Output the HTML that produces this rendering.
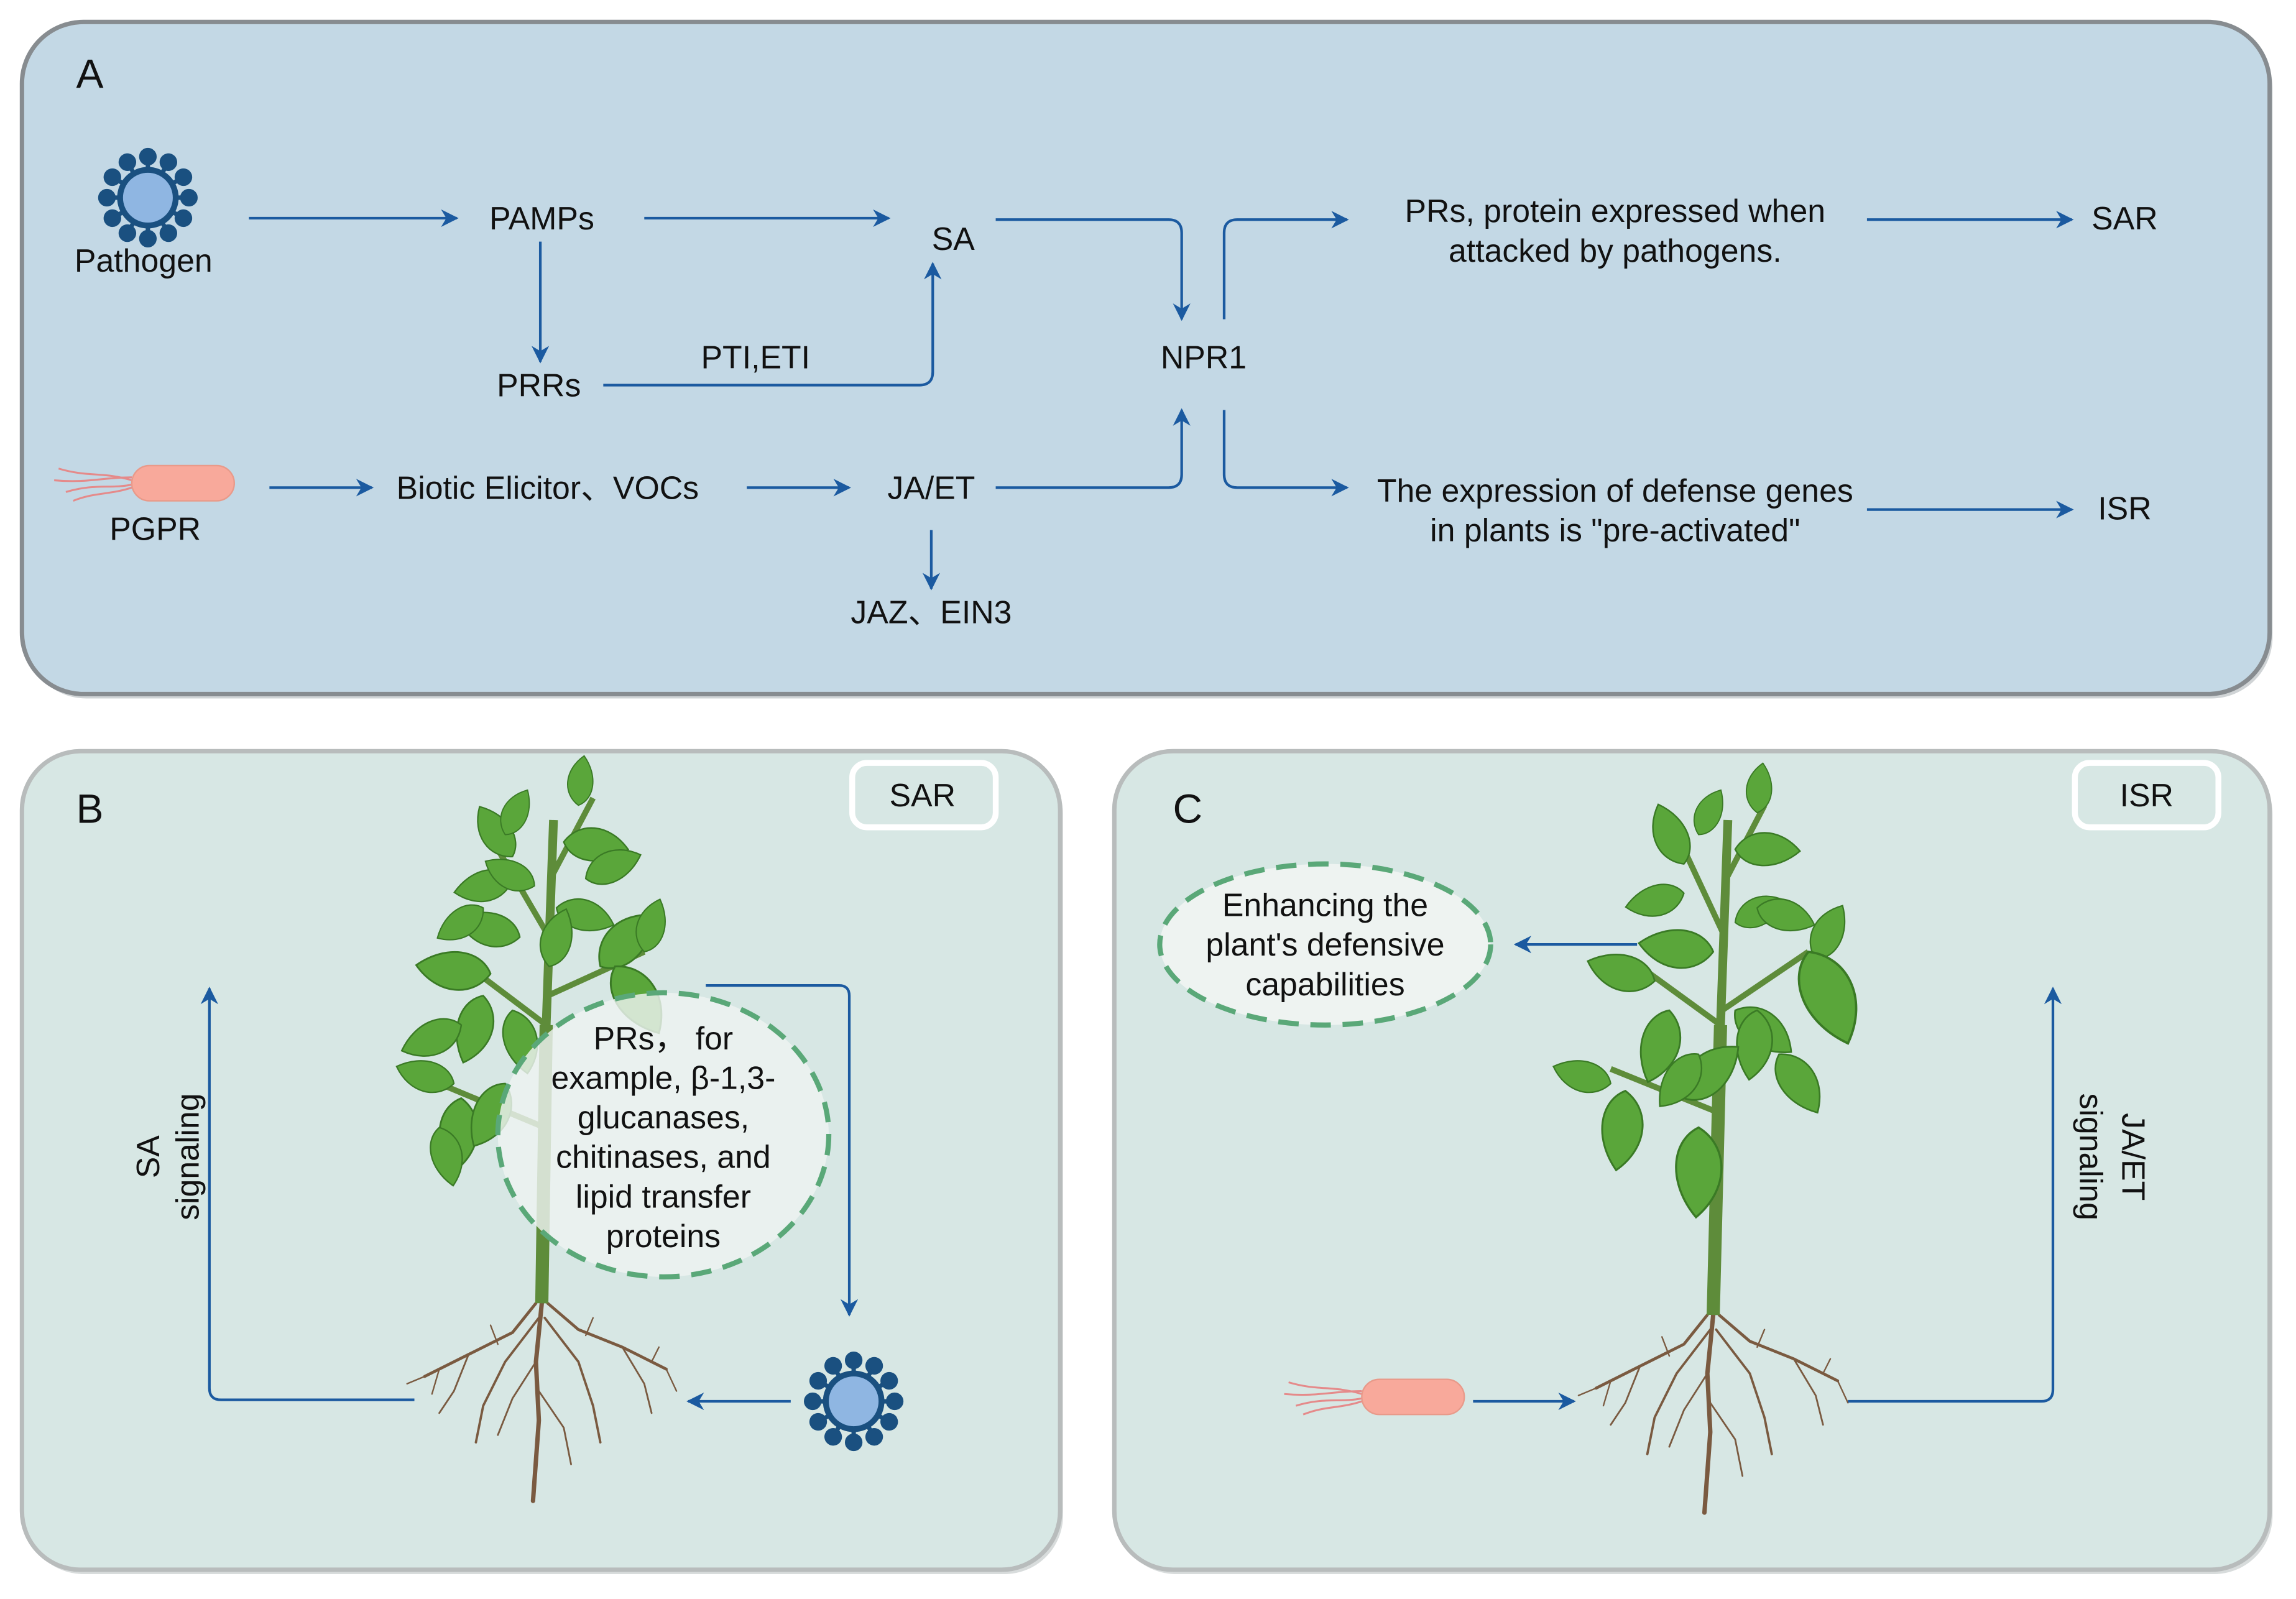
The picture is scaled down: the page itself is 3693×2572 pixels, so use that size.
<!DOCTYPE html>
<html><head><meta charset="utf-8"><style>
html,body{margin:0;padding:0;background:#fff;}
svg{display:block;}
text{font-family:"Liberation Sans",Arial,sans-serif;fill:#111;}
</style></head><body>
<svg width="3693" height="2572" viewBox="0 0 1568 1092" preserveAspectRatio="none" xmlns="http://www.w3.org/2000/svg">
<defs>
<marker id="ah" viewBox="0 0 10 10" refX="9" refY="5" markerWidth="12" markerHeight="12" markerUnits="userSpaceOnUse" orient="auto"><path d="M0,0 L10,5 L0,10 L3,5 z" fill="#1b5aa0"/></marker>
<g id="virus">
 <g stroke="#1a5080" stroke-width="3" fill="#1a5080">
  <line x1="0" y1="-28" x2="0" y2="0"/><circle cx="0" cy="-28" r="4.5"/>
  <g transform="rotate(30)"><line x1="0" y1="-28" x2="0" y2="0"/><circle cx="0" cy="-28" r="4.5"/></g>
  <g transform="rotate(60)"><line x1="0" y1="-28" x2="0" y2="0"/><circle cx="0" cy="-28" r="4.5"/></g>
  <g transform="rotate(90)"><line x1="0" y1="-28" x2="0" y2="0"/><circle cx="0" cy="-28" r="4.5"/></g>
  <g transform="rotate(120)"><line x1="0" y1="-28" x2="0" y2="0"/><circle cx="0" cy="-28" r="4.5"/></g>
  <g transform="rotate(150)"><line x1="0" y1="-28" x2="0" y2="0"/><circle cx="0" cy="-28" r="4.5"/></g>
  <g transform="rotate(180)"><line x1="0" y1="-28" x2="0" y2="0"/><circle cx="0" cy="-28" r="4.5"/></g>
  <g transform="rotate(210)"><line x1="0" y1="-28" x2="0" y2="0"/><circle cx="0" cy="-28" r="4.5"/></g>
  <g transform="rotate(240)"><line x1="0" y1="-28" x2="0" y2="0"/><circle cx="0" cy="-28" r="4.5"/></g>
  <g transform="rotate(270)"><line x1="0" y1="-28" x2="0" y2="0"/><circle cx="0" cy="-28" r="4.5"/></g>
  <g transform="rotate(300)"><line x1="0" y1="-28" x2="0" y2="0"/><circle cx="0" cy="-28" r="4.5"/></g>
  <g transform="rotate(330)"><line x1="0" y1="-28" x2="0" y2="0"/><circle cx="0" cy="-28" r="4.5"/></g>
 </g>
 <circle r="19" fill="#8fb6e2" stroke="#1a5080" stroke-width="4"/>
</g>
<g id="bact">
 <g stroke="#e58a8a" stroke-width="1.3" fill="none">
  <path d="M-75,-10 C-55,-4 -45,-8 -25,-2"/><path d="M-70,6 C-50,0 -40,4 -25,1"/>
  <path d="M-78,-2 C-55,0 -45,-4 -25,-4"/><path d="M-65,12 C-50,6 -40,8 -25,3"/>
 </g>
 <rect x="-25" y="-12" width="70" height="24" rx="12" fill="#f8a99b" stroke="#e89a8a"/>
</g>
<g id="roots" stroke="#7a5a40" fill="none" stroke-linecap="round">
 <path d="M0,0 L-4,40 L-2,80 L-6,135" stroke-width="3"/>
 <path d="M-4,0 L-20,20 L-50,35 L-80,50" stroke-width="2"/>
 <path d="M4,0 L25,18 L55,30 L85,45" stroke-width="2"/>
 <path d="M-2,10 L-25,40 L-40,70 L-45,95" stroke-width="1.6"/>
 <path d="M2,10 L25,40 L35,70 L40,95" stroke-width="1.6"/>
 <path d="M-50,35 L-60,60 L-70,75" stroke-width="1.2"/>
 <path d="M55,30 L70,55 L75,75" stroke-width="1.2"/>
 <path d="M-4,40 L-20,65 L-30,90" stroke-width="1.2"/>
 <path d="M-2,60 L15,85 L20,110" stroke-width="1.2"/>
 <path d="M-80,50 L-92,55 M-70,45 L-75,62 M85,45 L92,60 M75,40 L80,30 M-30,28 L-35,15 M30,22 L35,10" stroke-width="1"/>
</g>
<path id="lf" d="M0,0 C6,-12 22,-14 34,-2 C22,10 6,10 0,0 z" fill="#5aa63a" stroke="#3a7a25" stroke-width="0.8"/>
</defs>

<!-- Panel A -->
<rect x="17" y="18" width="1535" height="459" rx="42" fill="#d0d4d6"/>
<rect x="15" y="15" width="1535" height="459" rx="42" fill="#c3d8e5" stroke="#878c90" stroke-width="3"/>
<text x="52" y="60" font-size="28">A</text>
<use href="#virus" x="101" y="135"/>
<g font-size="22" text-anchor="middle" dominant-baseline="central">
<text x="98" y="178">Pathogen</text>
<text x="370" y="149">PAMPs</text>
<text x="368" y="263">PRRs</text>
<text x="516" y="244">PTI,ETI</text>
<text x="651" y="163">SA</text>
<text x="822" y="244">NPR1</text>
<text x="1103" y="144">PRs, protein expressed when</text>
<text x="1103" y="171">attacked by pathogens.</text>
<text x="1451" y="149">SAR</text>
<text x="374" y="333">Biotic Elicitor、VOCs</text>
<text x="636" y="333">JA/ET</text>
<text x="636" y="418">JAZ、EIN3</text>
<text x="106" y="361">PGPR</text>
<text x="1103" y="335">The expression of defense genes</text>
<text x="1103" y="362">in plants is "pre-activated"</text>
<text x="1451" y="347">ISR</text>
</g>
<use href="#bact" x="115" y="330"/>
<g stroke="#1b5aa0" stroke-width="1.8" fill="none" marker-end="url(#ah)">
<path d="M170,149 H312"/>
<path d="M440,149 H607"/>
<path d="M369,165 V247"/>
<path d="M412,263 H628 Q637,263 637,254 V180"/>
<path d="M680,150 H798 Q807,150 807,159 V218"/>
<path d="M680,333 H798 Q807,333 807,324 V280"/>
<path d="M836,218 V159 Q836,150 845,150 H920"/>
<path d="M836,280 V324 Q836,333 845,333 H920"/>
<path d="M1275,150 H1415"/>
<path d="M1275,348 H1415"/>
<path d="M184,333 H254"/>
<path d="M510,333 H580"/>
<path d="M636,362 V402"/>
</g>

<!-- Panel B -->
<rect x="17" y="516" width="709" height="559" rx="40" fill="#d8dcdc"/>
<rect x="15" y="513" width="709" height="559" rx="40" fill="#d7e7e4" stroke="#b8bcbc" stroke-width="3"/>
<text x="52" y="562" font-size="28">B</text>
<rect x="582" y="521" width="98" height="44" rx="10" fill="#d7e7e4" stroke="#fff" stroke-width="4"/>
<text x="630" y="543" font-size="22" text-anchor="middle" dominant-baseline="central">SAR</text>
<g>
<use href="#roots" x="370" y="890"/>
<path d="M375,640 L340,580 M376,600 L405,545 M373,700 L320,660 M374,680 L440,650 M372,770 L300,740" stroke="#5e8c3a" stroke-width="4" fill="none"/>
<path d="M370,890 L373,700 L378,560" stroke="#5e8c3a" stroke-width="6" fill="none"/>
<path d="M370,890 L373,700" stroke="#5e8c3a" stroke-width="9"/>
<use href="#lf" transform="translate(350,585) rotate(-120) scale(1.2)"/>
<use href="#lf" transform="translate(345,570) rotate(-60)"/>
<use href="#lf" transform="translate(395,550) rotate(-80)"/>
<use href="#lf" transform="translate(385,575) rotate(10) scale(1.3)"/>
<use href="#lf" transform="translate(350,600) rotate(170) scale(1.2)"/>
<use href="#lf" transform="translate(380,620) rotate(20) scale(1.2)"/>
<use href="#lf" transform="translate(355,640) rotate(200) scale(1.3)"/>
<use href="#lf" transform="translate(375,660) rotate(-70) scale(1.2)"/>
<use href="#lf" transform="translate(410,660) rotate(-40) scale(1.5)"/>
<use href="#lf" transform="translate(335,665) rotate(190) scale(1.5)"/>
<use href="#lf" transform="translate(330,680) rotate(110) scale(1.4)"/>
<use href="#lf" transform="translate(350,690) rotate(80) scale(1.3)"/>
<use href="#lf" transform="translate(420,660) rotate(60) scale(1.6)"/>
<use href="#lf" transform="translate(310,740) rotate(200) scale(1.2)"/>
<use href="#lf" transform="translate(315,750) rotate(100) scale(1.5)"/>
<use href="#lf" transform="translate(345,740) rotate(120) scale(1.4)"/>
<use href="#lf" transform="translate(365,605) rotate(-150) scale(1.1)"/>
<use href="#lf" transform="translate(440,650) rotate(-70) scale(1.1)"/>
<use href="#lf" transform="translate(330,620) rotate(150) scale(1.1)"/>
<use href="#lf" transform="translate(315,700) rotate(160) scale(1.3)"/>
<use href="#lf" transform="translate(300,770) rotate(80) scale(1.2)"/>
<use href="#lf" transform="translate(400,600) rotate(-20) scale(1.2)"/>
</g>
<ellipse cx="453" cy="775" rx="113" ry="97" fill="#eef3f1" fill-opacity="0.82" stroke="#5aa878" stroke-width="3.5" stroke-dasharray="14,8"/>
<g font-size="22" text-anchor="middle" dominant-baseline="central">
<text x="453" y="709">PRs， for</text>
<text x="453" y="736">example, β-1,3-</text>
<text x="453" y="763">glucanases,</text>
<text x="453" y="790">chitinases, and</text>
<text x="453" y="817">lipid transfer</text>
<text x="453" y="844">proteins</text>
<text transform="translate(101,790) rotate(-90)">SA</text>
<text transform="translate(128,790) rotate(-90)">signaling</text>
</g>
<use href="#virus" x="583" y="957"/>
<g stroke="#1b5aa0" stroke-width="1.8" fill="none" marker-end="url(#ah)">
<path d="M283,956 H151 Q143,956 143,948 V675"/>
<path d="M482,673 H573 Q580,673 580,680 V898"/>
<path d="M540,957 H470"/>
</g>

<!-- Panel C -->
<rect x="763" y="516" width="789" height="559" rx="40" fill="#d8dcdc"/>
<rect x="761" y="513" width="789" height="559" rx="40" fill="#d7e7e4" stroke="#b8bcbc" stroke-width="3"/>
<text x="801" y="562" font-size="28">C</text>
<rect x="1417" y="521" width="98" height="44" rx="10" fill="#d7e7e4" stroke="#fff" stroke-width="4"/>
<text x="1466" y="543" font-size="22" text-anchor="middle" dominant-baseline="central">ISR</text>
<g>
<use href="#roots" x="1170" y="898"/>
<path d="M1178,640 L1150,580 M1179,600 L1205,550 M1175,700 L1120,660 M1176,690 L1235,650 M1174,760 L1100,730" stroke="#5e8c3a" stroke-width="4" fill="none"/>
<path d="M1170,898 L1175,700 L1180,560" stroke="#5e8c3a" stroke-width="6" fill="none"/>
<path d="M1170,898 L1175,700" stroke="#5e8c3a" stroke-width="9"/>
<use href="#lf" transform="translate(1150,590) rotate(-110) scale(1.3)"/>
<use href="#lf" transform="translate(1160,570) rotate(-60)"/>
<use href="#lf" transform="translate(1200,555) rotate(-80)"/>
<use href="#lf" transform="translate(1185,580) rotate(5) scale(1.3)"/>
<use href="#lf" transform="translate(1150,610) rotate(170) scale(1.2)"/>
<use href="#lf" transform="translate(1185,630) rotate(-20) scale(1.1)"/>
<use href="#lf" transform="translate(1170,650) rotate(190) scale(1.5)"/>
<use href="#lf" transform="translate(1240,655) rotate(-60) scale(1.2)"/>
<use href="#lf" transform="translate(1235,650) rotate(70) scale(2)"/>
<use href="#lf" transform="translate(1130,670) rotate(200) scale(1.4)"/>
<use href="#lf" transform="translate(1140,690) rotate(110) scale(1.5)"/>
<use href="#lf" transform="translate(1185,690) rotate(40) scale(1.4)"/>
<use href="#lf" transform="translate(1200,690) rotate(100) scale(1.4)"/>
<use href="#lf" transform="translate(1100,740) rotate(200) scale(1.2)"/>
<use href="#lf" transform="translate(1110,745) rotate(100) scale(1.6)"/>
<use href="#lf" transform="translate(1150,750) rotate(-40) scale(1.5)"/>
<use href="#lf" transform="translate(1160,770) rotate(95) scale(1.8)"/>
<use href="#lf" transform="translate(1160,720) rotate(130) scale(1.3)"/>
<use href="#lf" transform="translate(1200,620) rotate(20) scale(1.2)"/>
<use href="#lf" transform="translate(1215,720) rotate(60) scale(1.4)"/>
</g>
<ellipse cx="905" cy="645" rx="113" ry="55" fill="#eef3f1" stroke="#5aa878" stroke-width="3.5" stroke-dasharray="14,8"/>
<g font-size="22" text-anchor="middle" dominant-baseline="central">
<text x="905" y="618">Enhancing the</text>
<text x="905" y="645">plant's defensive</text>
<text x="905" y="672">capabilities</text>
<text transform="translate(1457,790) rotate(90)">JA/ET</text>
<text transform="translate(1428,790) rotate(90)">signaling</text>
</g>
<use href="#bact" x="955" y="954"/>
<g stroke="#1b5aa0" stroke-width="1.8" fill="none" marker-end="url(#ah)">
<path d="M1118,645 H1035"/>
<path d="M1006,957 H1075"/>
<path d="M1262,957 H1394 Q1402,957 1402,949 V675"/>
</g>
</svg>
</body></html>
